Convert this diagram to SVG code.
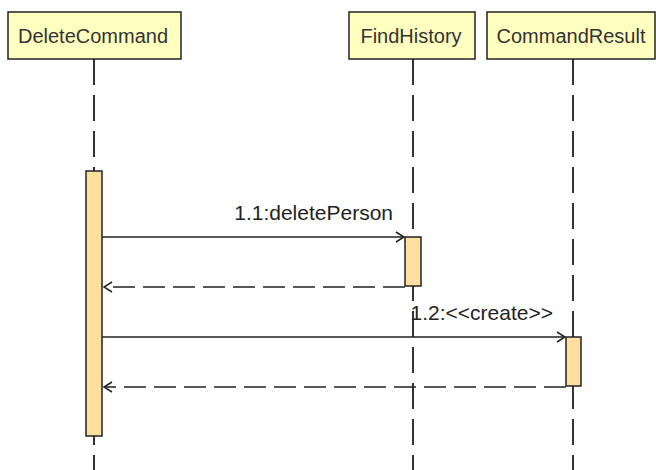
<svg xmlns="http://www.w3.org/2000/svg" width="656" height="470" viewBox="0 0 656 470">
  <style>
    .head { fill: #FFFFC0; stroke: #222; stroke-width: 1.5; }
    .act { fill: #FFDFA0; stroke: #222; stroke-width: 1.5; }
    .life { stroke: #333; stroke-width: 2; stroke-dasharray: 26 10; fill: none; }
    .msg { stroke: #222; stroke-width: 1.5; fill: none; }
    .ret { stroke: #222; stroke-width: 1.5; fill: none; stroke-dasharray: 22 8; }
    .htxt { font-family: "Liberation Sans", Arial, sans-serif; font-size: 20px; fill: #333; text-anchor: middle; }
    .mtxt { font-family: "Liberation Sans", Arial, sans-serif; font-size: 21px; fill: #222; text-anchor: end; }
  </style>
  <defs>
    <marker id="open" viewBox="0 0 10 12" refX="9" refY="6" markerWidth="10" markerHeight="12" markerUnits="userSpaceOnUse" orient="auto">
      <path d="M1,1 L9,6 L1,11" fill="none" stroke="#222" stroke-width="1.5"/>
    </marker>
  </defs>

  <!-- lifelines -->
  <g id="lifelines">
    <line class="life" x1="94" y1="59" x2="94" y2="470"/>
    <line class="life" x1="413" y1="59" x2="413" y2="470"/>
    <line class="life" x1="573" y1="59" x2="573" y2="470"/>
  </g>

  <g id="DeleteCommand">
    <rect class="head" x="8" y="12" width="173" height="47"/>
    <text class="htxt" x="93" y="43">DeleteCommand</text>
    <rect class="act" x="86" y="171" width="16" height="265"/>
  </g>

  <g id="FindHistory">
    <rect class="head" x="349" y="12" width="126" height="47"/>
    <text class="htxt" x="411" y="43">FindHistory</text>
    <rect class="act" x="405" y="237" width="16" height="49"/>
  </g>

  <g id="CommandResult">
    <rect class="head" x="487" y="12" width="168" height="47"/>
    <text class="htxt" x="571" y="43">CommandResult</text>
    <rect class="act" x="566" y="337" width="15" height="49"/>
  </g>

  <!-- messages -->
  <g id="connectors">
    <line class="msg" x1="102" y1="237" x2="404" y2="237" marker-end="url(#open)"/>
    <text class="mtxt" x="393" y="220">1.1:deletePerson</text>
    <line class="ret" x1="405" y1="287" x2="104" y2="287" marker-end="url(#open)"/>
    <line class="msg" x1="102" y1="337" x2="565" y2="337" marker-end="url(#open)"/>
    <text class="mtxt" x="553" y="320">1.2:&lt;&lt;create&gt;&gt;</text>
    <line class="ret" x1="566" y1="387" x2="104" y2="387" marker-end="url(#open)"/>
  </g>
</svg>
